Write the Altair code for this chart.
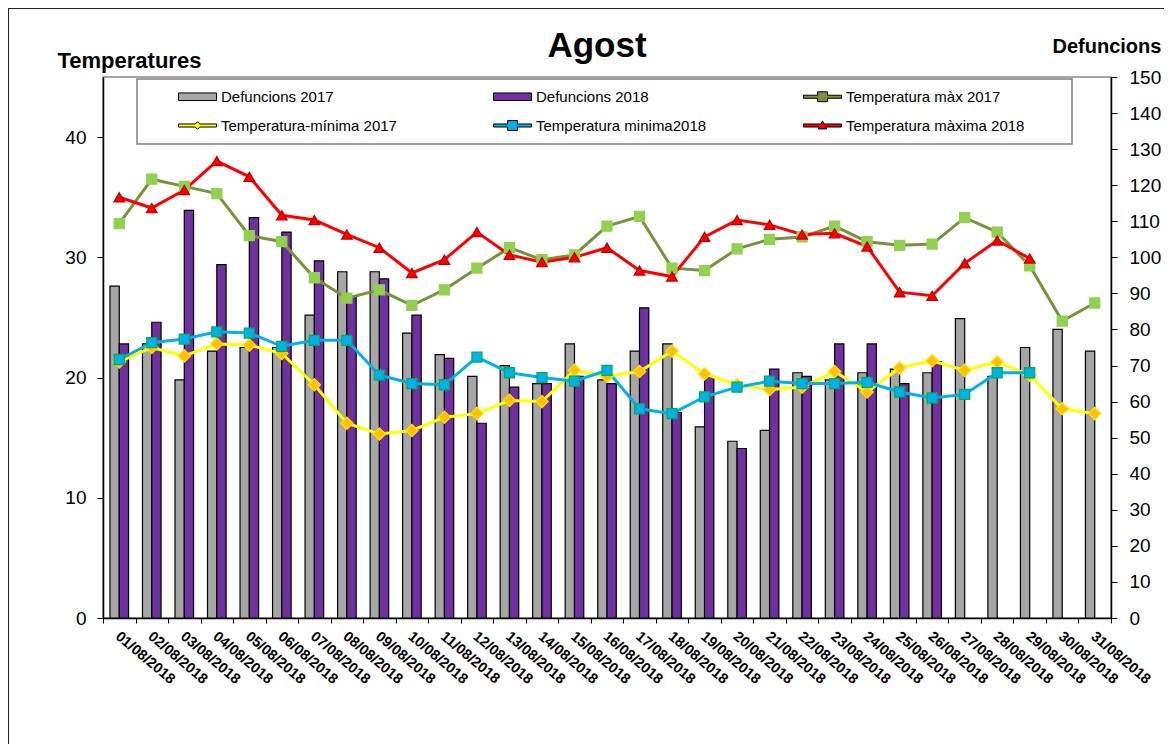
import altair as alt
import pandas as pd

days = ["01/08/2018", "02/08/2018", "03/08/2018", "04/08/2018", "05/08/2018",
        "06/08/2018", "07/08/2018", "08/08/2018", "09/08/2018", "10/08/2018",
        "11/08/2018", "12/08/2018", "13/08/2018", "14/08/2018", "15/08/2018",
        "16/08/2018", "17/08/2018", "18/08/2018", "19/08/2018", "20/08/2018",
        "21/08/2018", "22/08/2018", "23/08/2018", "24/08/2018", "25/08/2018",
        "26/08/2018", "27/08/2018", "28/08/2018", "29/08/2018", "30/08/2018",
        "31/08/2018"]

deaths_2017 = [92, 76, 66, 74, 75, 75, 84, 96, 96, 79, 73, 67, 70, 65, 76, 66,
               74, 76, 53, 49, 52, 68, 66, 68, 69, 68, 83, 67, 75, 80, 74]
deaths_2018 = [76, 82, 113, 98, 111, 107, 99, 89, 94, 84, 72, 54, 64, 65, 67, 65,
               86, 57, 67, 47, 69, 67, 76, 76, 65, 71]

tmax_2017 = [32.8, 36.5, 35.9, 35.3, 31.8, 31.3, 28.3, 26.6, 27.3, 26.0, 27.3,
             29.1, 30.8, 29.8, 30.2, 32.6, 33.4, 29.1, 28.9, 30.7, 31.5, 31.7,
             32.6, 31.3, 31.0, 31.1, 33.3, 32.1, 29.3, 24.7, 26.2]
tmin_2017 = [21.3, 22.5, 21.8, 22.8, 22.7, 22.0, 19.4, 16.2, 15.3, 15.6, 16.7,
             17.0, 18.1, 18.0, 20.6, 20.1, 20.5, 22.2, 20.3, 19.4, 19.0, 19.2,
             20.5, 18.8, 20.8, 21.4, 20.6, 21.3, 20.2, 17.4, 17.0]
tmin_2018 = [21.5, 22.9, 23.2, 23.8, 23.7, 22.6, 23.1, 23.1, 20.2, 19.5, 19.4,
             21.7, 20.4, 20.0, 19.7, 20.6, 17.4, 17.0, 18.4, 19.2, 19.7, 19.5,
             19.5, 19.6, 18.8, 18.3, 18.6, 20.4, 20.4]
tmax_2018 = [35.0, 34.1, 35.6, 38.0, 36.7, 33.5, 33.1, 31.9, 30.8, 28.7, 29.8,
             32.1, 30.2, 29.6, 30.0, 30.8, 28.9, 28.4, 31.7, 33.1, 32.7, 31.9,
             32.0, 30.9, 27.1, 26.8, 29.5, 31.4, 29.9]

series_names = ["Defuncions 2017", "Defuncions 2018", "Temperatura màx 2017",
                "Temperatura-mínima 2017", "Temperatura minima2018",
                "Temperatura màxima 2018"]
series_colors = ["#A6A6A6", "#7030A0", "#77933C", "#FFFF00", "#00B0F0", "#FF0000"]

FONT = "Liberation Sans, Arial"

# ---- bar data (deaths) ----
bar_rows = []
for d, v in zip(days, deaths_2017):
    bar_rows.append({"dia": d, "any": "2017", "valor": v, "fillc": "#A6A6A6"})
for d, v in zip(days, deaths_2018):
    bar_rows.append({"dia": d, "any": "2018", "valor": v, "fillc": "#7030A0"})
bars_df = pd.DataFrame(bar_rows)

# ---- temperature data ----
temp_specs = [
    ("Temperatura màx 2017", tmax_2017, "#77933C", "#92D050", "#92D050", "square", 100),
    ("Temperatura-mínima 2017", tmin_2017, "#FFFF00", "#FFC000", "#FFE000", "diamond", 150),
    ("Temperatura minima2018", tmin_2018, "#00B0F0", "#00B0F0", "#00B050", "square", 100),
    ("Temperatura màxima 2018", tmax_2018, "#FF0000", "#FF0000", "#C00000", "triangle-up", 110),
]
temp_rows = []
for name, vals, lc, mf, ms, shp, sz in temp_specs:
    for d, v in zip(days, vals):
        temp_rows.append({"dia": d, "serie": name, "valor": v, "lc": lc,
                          "mf": mf, "ms": ms, "shp": shp, "msz": sz})
temps_df = pd.DataFrame(temp_rows)

x_enc = alt.X(
    "dia:N", sort=days,
    scale=alt.Scale(domain=days, paddingInner=0, paddingOuter=0),
    axis=alt.Axis(title=None, labelAngle=40, labelAlign="left", labelBaseline="top",
                  labelFont=FONT, labelFontSize=14.5, labelFontWeight="bold",
                  labelColor="black", labelPadding=6, labelOffset=2,
                  labelOverlap=False, labelBound=False,
                  tickBand="extent", tickSize=5, tickColor="black",
                  domainColor="black", domainWidth=1.5, grid=False),
)

y_temp = alt.Y(
    "valor:Q", scale=alt.Scale(domain=[0, 45], nice=False, zero=True),
    axis=alt.Axis(title="Temperatures", titleAngle=0, titleX=-46, titleY=-10,
                  titleAlign="left", titleBaseline="alphabetic", titleFont=FONT,
                  titleFontSize=22, titleFontWeight="bold", titleColor="black",
                  values=[0, 10, 20, 30, 40], labelFont=FONT, labelFontSize=19,
                  labelColor="black", labelPadding=11, tickSize=6,
                  tickColor="black", domainColor="black", domainWidth=1.5,
                  grid=False),
)

y_deaths = alt.Y(
    "valor:Q", scale=alt.Scale(domain=[0, 150], nice=False),
    axis=alt.Axis(orient="right", title="Defuncions", titleAngle=0, titleX=-59,
                  titleY=-25, titleAlign="left", titleBaseline="alphabetic",
                  titleFont=FONT, titleFontSize=20, titleFontWeight="bold",
                  titleColor="black", values=list(range(0, 151, 10)),
                  labelFont=FONT, labelFontSize=19, labelColor="black",
                  labelPadding=12, tickSize=6, tickColor="black",
                  domainColor="black", domainWidth=1.5, grid=False),
)

bars = alt.Chart(bars_df).mark_bar(stroke="black", strokeWidth=1.2).encode(
    x=x_enc,
    xOffset=alt.XOffset("any:N", scale=alt.Scale(domain=["2017", "2018"],
                                                 paddingInner=0, paddingOuter=0.75)),
    y=y_deaths,
    color=alt.Color("fillc:N", scale=None),
)

lines = alt.Chart(temps_df).mark_line(strokeWidth=3).encode(
    x=x_enc,
    y=y_temp,
    color=alt.Color("lc:N", scale=None),
    detail="serie:N",
)
points = alt.Chart(temps_df).mark_point(filled=True, strokeWidth=1.3, opacity=1).encode(
    x=x_enc,
    y=y_temp,
    fill=alt.Fill("mf:N", scale=None),
    stroke=alt.Stroke("ms:N", scale=None),
    shape=alt.Shape("shp:N", scale=None),
    size=alt.Size("msz:Q", scale=None),
)
temps = alt.layer(lines, points)

# legend symbols (custom paths)
bar_path = "M-1,-0.2H1V0.2H-1Z"
sq_path = "M-1,-0.08H-0.26V-0.26H0.26V-0.08H1V0.08H0.26V0.26H-0.26V0.08H-1Z"
dia_path = "M-1,-0.08H-0.12L0,-0.2L0.12,-0.08H1V0.08H0.12L0,0.2L-0.12,0.08H-1Z"
tri_path = "M-1,-0.08H-0.084L0,-0.24L0.084,-0.08H1V0.08H0.168L0.22,0.18H-0.22L-0.168,0.08H-1Z"
legend_shapes = [bar_path, bar_path, sq_path, dia_path, sq_path, tri_path]

leg = alt.Legend(
    title=None, orient="none", legendX=75, legendY=0, direction="horizontal",
    columns=3, columnPadding=94, rowPadding=1, symbolSize=1444,
    symbolStrokeWidth=1,
    symbolStrokeColor=alt.ExprRef(expr="indexof(datum.value, 'Defuncions') == 0 ? 'black' : 'transparent'"),
    labelFont=FONT, labelFontSize=15, labelColor="black", labelLimit=400,
    labelOffset=4,
)
legend_df = pd.DataFrame({"serie": series_names})
legend_layer = alt.Chart(legend_df).mark_point(filled=True, clip=True).encode(
    x=alt.value(0), y=alt.value(-3000),
    color=alt.Color("serie:N", scale=alt.Scale(domain=series_names, range=series_colors),
                    legend=leg),
    shape=alt.Shape("serie:N", scale=alt.Scale(domain=series_names, range=legend_shapes),
                    legend=leg),
)

one = pd.DataFrame({"a": [0]})
legend_box = alt.Chart(one).mark_rect(fill="white", stroke="#808080", strokeWidth=1.5).encode(
    x=alt.value(34), x2=alt.value(969), y=alt.value(2), y2=alt.value(67))
frame_left = alt.Chart(one).mark_rule(color="#222222", strokeWidth=1).encode(
    x=alt.value(-94.5), y=alt.value(-69), y2=alt.value(667))
frame_top = alt.Chart(one).mark_rule(color="#222222", strokeWidth=1).encode(
    x=alt.value(-95), x2=alt.value(1061), y=alt.value(-68.5))

chart = alt.layer(
    frame_left, frame_top, bars, legend_box, temps, legend_layer
).resolve_scale(y="independent").properties(
    width=1008, height=541,
    padding={"left": 95, "top": 69, "right": 53, "bottom": 126},
    autosize=alt.AutoSizeParams(type="none"),
    title=alt.TitleParams("Agost", font=FONT, fontSize=35, fontWeight="bold",
                          color="black", anchor="middle", dx=-10, offset=0,
                          baseline="alphabetic", dy=84),
).configure_view(stroke="#888888", strokeWidth=1.5).configure_axis(grid=False)

chart.save("out.html", embed_options={"renderer": "svg", "actions": False})
